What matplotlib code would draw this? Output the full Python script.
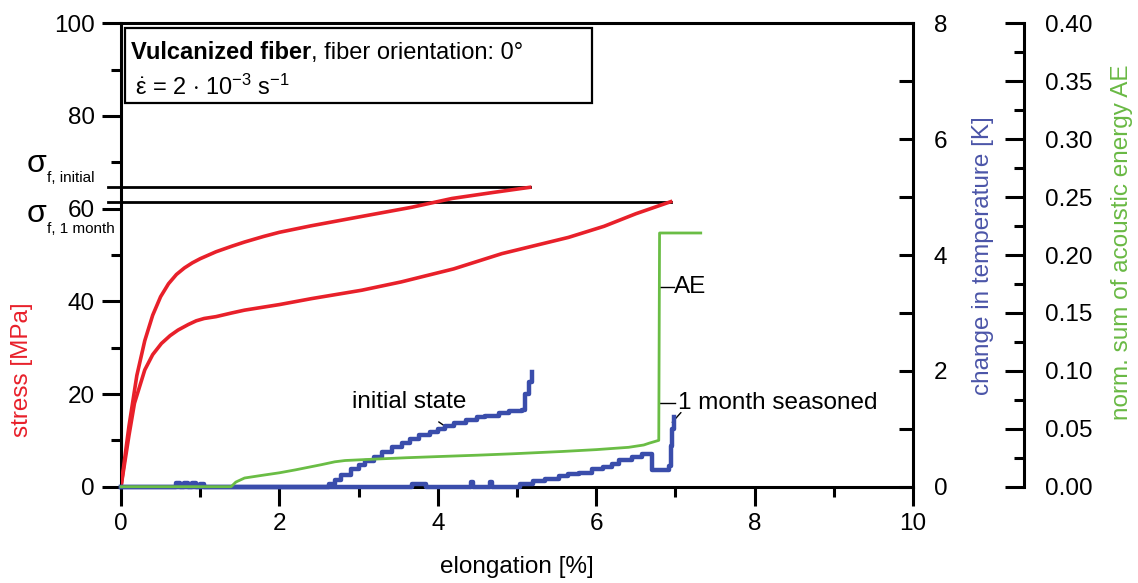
import matplotlib
matplotlib.use("Agg")
import matplotlib.pyplot as plt
from matplotlib.patches import Rectangle
from matplotlib.ticker import MultipleLocator, FormatStrFormatter

plt.rcParams['font.family'] = ['Liberation Sans', 'DejaVu Sans']
plt.rcParams['mathtext.fontset'] = 'custom'
plt.rcParams['mathtext.rm'] = 'Liberation Sans'
plt.rcParams['mathtext.it'] = 'Liberation Sans'

# stress-strain curves (elongation in %, stress in MPa)
initial_x = [0, 0.05, 0.1, 0.2, 0.3, 0.4, 0.5, 0.6, 0.7, 0.8, 0.9, 1.0, 1.2, 1.4, 1.56, 1.8, 2.0, 2.4, 3.0,
             3.67, 4.18, 4.7, 5.16]
initial_y = [0, 6.5, 13, 24, 31.5, 37, 41, 43.8, 45.8, 47.2, 48.3, 49.2, 50.7, 51.9, 52.8, 54, 54.9, 56.3, 58.2,
             60.3, 62.2, 63.5, 64.6]
month_x = [0, 0.05, 0.1, 0.17, 0.3, 0.4, 0.51, 0.62, 0.72, 0.85, 0.95, 1.05, 1.2, 1.4, 1.56, 2.0, 2.41, 3.04,
           3.54, 4.2, 4.81, 5.65, 6.1, 6.5, 6.94]
month_y = [0, 5.5, 11, 18, 25.2, 28.5, 30.9, 32.6, 33.8, 35, 35.8, 36.3, 36.7, 37.5, 38.1, 39.3, 40.6, 42.4,
           44.2, 47, 50.3, 53.8, 56.2, 58.9, 61.5]
sigma_initial = 64.6
sigma_month = 61.5

# change in temperature [K]
temp_init_x = [0, 0.7, 0.74, 0.8, 0.84, 0.9, 0.95, 1.0, 1.05, 2.62, 2.7, 2.78, 2.9, 3.0, 3.08, 3.2, 3.3, 3.42, 3.55,
               3.65, 3.76, 3.9, 4.0, 4.09, 4.2, 4.35, 4.5, 4.6, 4.77, 4.9, 5.06, 5.1, 5.15, 5.19]
temp_init_y = [0, 0.06, 0, 0.06, 0, 0.06, 0, 0.05, 0, 0.05, 0.12, 0.2, 0.3, 0.38, 0.44, 0.52, 0.6, 0.69, 0.76,
               0.83, 0.9, 0.95, 1.0, 1.04, 1.1, 1.15, 1.2, 1.22, 1.27, 1.3, 1.33, 1.6, 1.8, 1.98]
temp_month_x = [0, 3.68, 3.85, 4.42, 4.45, 4.66, 4.69, 5.04, 5.2, 5.35, 5.53, 5.65, 5.78, 5.95, 6.08, 6.2, 6.29,
                6.45, 6.58, 6.71, 6.92, 6.94, 6.96, 6.98]
temp_month_y = [0, 0.05, 0, 0.08, 0, 0.08, 0, 0.05, 0.1, 0.14, 0.18, 0.22, 0.24, 0.3, 0.34, 0.4, 0.46,
                0.52, 0.57, 0.29, 0.35, 0.7, 1.0, 1.2]

# normalised sum of acoustic energy
ae_x = [0, 1.39, 1.45, 1.56, 1.8, 2.0, 2.2, 2.53, 2.7, 2.83, 3.2, 3.6, 4.0, 4.5, 4.94, 5.57, 6.0, 6.41, 6.6, 6.67,
        6.79, 6.8, 7.32]
ae_y = [0, 0, 0.004, 0.0075, 0.01, 0.012, 0.0145, 0.019, 0.0215, 0.0226, 0.0238, 0.025, 0.026, 0.0272, 0.0284,
        0.0304, 0.032, 0.034, 0.036, 0.0376, 0.040, 0.219, 0.219]

red = '#e8202a'
blue = '#3a4dab'
green = '#6abd45'
fs = 17.5

fig = plt.figure(figsize=(11.38, 5.83), dpi=100)
ax = fig.add_axes([121 / 1138, 96.3 / 583, 792 / 1138, 463.4 / 583])

ax.plot(initial_x, initial_y, color=red, lw=2.6, zorder=3)
ax.plot(month_x, month_y, color=red, lw=2.6, zorder=3)
ax.plot([-0.16, initial_x[-1]], [sigma_initial, sigma_initial], color='black', lw=2, clip_on=False, zorder=2)
ax.plot([-0.16, month_x[-1]], [sigma_month, sigma_month], color='black', lw=2, clip_on=False, zorder=2)

ax.set_xlim(0, 10)
ax.set_ylim(0, 100)
ax.xaxis.set_major_locator(MultipleLocator(2))
ax.xaxis.set_minor_locator(MultipleLocator(1))
ax.yaxis.set_major_locator(MultipleLocator(20))
ax.yaxis.set_minor_locator(MultipleLocator(10))
ax.tick_params(which='major', direction='out', length=14, width=2.2, labelsize=fs, pad=5)
ax.tick_params(which='minor', direction='out', length=7, width=2.2)
for s in ax.spines.values():
    s.set_linewidth(2.2)
ax.set_xlabel('elongation [%]', fontsize=fs, labelpad=15)

# temperature axis
ax2 = ax.twinx()
ax2.step(temp_init_x, temp_init_y, where='post', color=blue, lw=3.2, clip_on=False, zorder=3)
ax2.step(temp_month_x, temp_month_y, where='post', color=blue, lw=3.2, clip_on=False, zorder=3)
ax2.set_ylim(0, 8)
ax2.yaxis.set_major_locator(MultipleLocator(2))
ax2.yaxis.set_minor_locator(MultipleLocator(1))
ax2.tick_params(which='both', direction='in', length=10, width=2.2, labelsize=fs, pad=15)
for s in ax2.spines.values():
    s.set_visible(False)

# acoustic energy axis
ax3 = ax.twinx()
ax3.plot(ae_x, ae_y, color=green, lw=2, clip_on=False, zorder=4)
ax3.set_ylim(0, 0.40)
ax3.yaxis.set_major_locator(MultipleLocator(0.05))
ax3.yaxis.set_minor_locator(MultipleLocator(0.025))
ax3.yaxis.set_major_formatter(FormatStrFormatter('%.2f'))
ax3.tick_params(which='major', direction='in', length=14, width=2.2, labelsize=fs, pad=15)
ax3.tick_params(which='minor', direction='in', length=7, width=2.2)
for k, s in ax3.spines.items():
    s.set_visible(k == 'right')
ax3.spines['right'].set_position(('axes', 1.1402))
ax3.spines['right'].set_linewidth(2.2)

# axis titles
fig.text(22 / 1138, 1 - 370 / 583, 'stress [MPa]', color=red, fontsize=fs, rotation=90, ha='center', va='center')
fig.text(983 / 1138, 1 - 256 / 583, 'change in temperature [K]', color='#4b55a8', fontsize=fs, rotation=90,
         ha='center', va='center')
fig.text(1122 / 1138, 1 - 242 / 583, 'norm. sum of acoustic energy AE', color='#69b944', fontsize=fs, rotation=90,
         ha='center', va='center')

# failure stress labels
fig.text(36 / 1138, 1 - 172 / 583, 'σ', fontsize=23, ha='center', va='baseline')
fig.text(47 / 1138, 1 - 178 / 583, 'f, initial', fontsize=11, ha='left', va='center')
fig.text(36 / 1138, 1 - 222 / 583, 'σ', fontsize=23, ha='center', va='baseline')
fig.text(47 / 1138, 1 - 229 / 583, 'f, 1 month', fontsize=11, ha='left', va='center')

# info box
ax.add_patch(Rectangle((0.005, 0.8287), 0.5897, 0.161, transform=ax.transAxes, fill=False,
                       edgecolor='black', lw=1.6, zorder=5, clip_on=False))
t1 = ax.text(0.0126, 0.938, 'Vulcanized fiber', transform=ax.transAxes, fontsize=17, fontweight='bold',
             ha='left', va='center', zorder=6)
ax.annotate(', fiber orientation: 0°', xy=(1, 0), xycoords=t1, fontsize=17, ha='left', va='bottom', zorder=6)
ax.text(0.018, 0.862, r'$\dot{\mathrm{ε}}$ = 2 $\cdot$ 10$^{\mathrm{ -3}}$ s$^{\mathrm{ -1}}$',
        transform=ax.transAxes, fontsize=17, ha='left', va='center', zorder=6)

# curve labels
ax.annotate('initial state', xy=(4.07, 13.3), xytext=(3.64, 18.3), fontsize=fs, ha='center', va='center',
            arrowprops=dict(arrowstyle='-', color='black', lw=1, shrinkA=8, shrinkB=0))
ax.text(7.03, 18.0, '1 month seasoned', fontsize=fs, ha='left', va='center')
ax.plot([6.8, 7.0], [18.0, 18.0], color='black', lw=1)
ax.annotate('', xy=(6.96, 13.9), xytext=(7.07, 16.0),
            arrowprops=dict(arrowstyle='-', color='black', lw=1, shrinkA=0, shrinkB=0))
ax.text(6.98, 43.1, 'AE', fontsize=fs, ha='left', va='center')
ax.plot([6.8, 6.98], [43.1, 43.1], color='black', lw=1)

fig.savefig('out.png', dpi=100)
